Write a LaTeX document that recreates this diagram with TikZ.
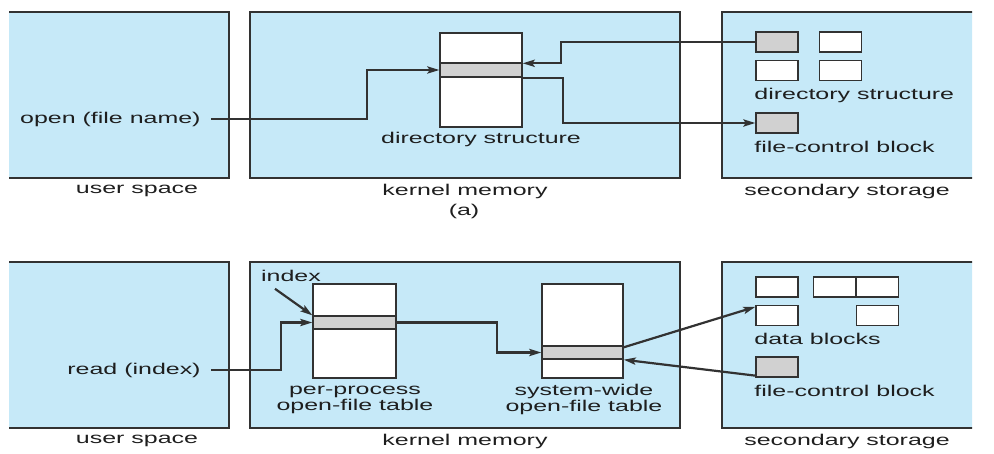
\documentclass[tikz,border=0pt]{standalone}
\usepackage{fontspec}
\setmainfont[FakeStretch=1.6]{Liberation Sans}
\usetikzlibrary{arrows.meta}
\definecolor{memblue}{RGB}{198,233,248}
\definecolor{bandgrey}{RGB}{209,209,209}
\definecolor{edge}{RGB}{50,50,50}
\definecolor{txt}{RGB}{30,30,30}
\begin{document}
\begin{tikzpicture}[x=0.5pt, y=-0.5pt,
        every node/.style={font=\fontsize{7.8}{8}\selectfont, text=txt},
        region/.style={draw=edge, fill=memblue, line width=0.8pt, inner sep=0, minimum height=83pt},
        tabl/.style={draw=edge, fill=white, line width=0.7pt, inner sep=0, minimum height=47pt},
        band/.style={draw=edge, fill=bandgrey, line width=0.7pt, inner sep=0, minimum height=7pt},
        blk/.style={draw=edge, fill=white, line width=0.65pt, inner sep=0, minimum width=21pt, minimum height=10pt},
        fcb/.style={blk, fill=bandgrey},
        conn/.style={draw=edge, line width=1.1pt, -{Stealth[length=6pt, width=3.6pt, inset=1.2pt]}}]
        \useasboundingbox (0,0) rectangle (994,454);

        % Areas (a)
        \begin{scope}
        \clip (9,0) rectangle (972,454);
        \node[region, minimum width=112.5pt] (usrA) at (116.5,95) {};
        \node[region, minimum width=215pt] (krnA) at (465,95) {};
        \node[region, minimum width=127.5pt] (secA) at (849.5,95) {};
        % Areas (b)
        \node[region, minimum width=112.5pt] (usrB) at (116.5,345) {};
        \node[region, minimum width=215pt] (krnB) at (465,345) {};
        \node[region, minimum width=127.5pt] (secB) at (849.5,345) {};
        \end{scope}

        % Labels under the areas
        \node (usrAl) at (137,191) {user space};
        \node (krnAl) at (465,191) {kernel memory};
        \node (secAl) at (847,191) {secondary storage};
        \node (capA) at (464,211) {(a)};
        \node (usrBl) at (137,441) {user space};
        \node (krnBl) at (465,441) {kernel memory};
        \node (secBl) at (847,441) {secondary storage};

        % Kernel memory (a)
        \node[tabl, minimum width=41pt] (dirTab) at (481,80) {};
        \node[band, minimum width=41pt] (dirBand) at (481,70) {};
        \node (dirTabl) at (481,139) {directory structure};

        % Secondary storage (a)
        \node[fcb] (dirBlk1) at (777,42) {};
        \node[blk] (dirBlk2) at (840.5,42) {};
        \node[blk] (dirBlk3) at (777,70.5) {};
        \node[blk] (dirBlk4) at (840.5,70.5) {};
        \node[anchor=west, inner sep=0] (dirAl) at (754,95) {directory structure};
        \node[fcb] (fcbA) at (777,123) {};
        \node[anchor=west, inner sep=0] (fcbAl) at (754,147) {file-control block};

        % User space (a)
        \node[anchor=east, inner xsep=5pt, inner ysep=0] (openA) at (211,119) {open (file name)};

        % Arrows (a)
        \draw[conn] (openA.east) -- ++(156,0) |- (dirBand.west);
        \draw[conn] (dirBlk1.west) -- ++(-194,0) |- ([yshift=-0.5pt]dirBand.north east);
        \draw[conn] (dirBand.south east) -- ++(40,0) |- (fcbA.west);

        % Kernel memory (b)
        \node[tabl, minimum width=41.5pt] (ppTab) at (354.5,331) {};
        \node[band, minimum width=41.5pt, minimum height=6.5pt] (ppBand) at (354.5,322.5) {};
        \node[align=center, inner sep=0] (ppTabl) at (355,399.5) {per-process\\open-file table};
        \node (idxB) at (291,276) {index};
        \node[tabl, minimum width=40.5pt] (swTab) at (582.5,331) {};
        \node[band, minimum width=40.5pt, minimum height=6.5pt] (swBand) at (582.5,352.5) {};
        \node[align=center, inner sep=0] (swTabl) at (584,399.5) {system-wide\\open-file table};

        % Secondary storage (b)
        \node[blk] (dat1) at (777,287) {};
        \node[blk] (dat2) at (834.5,287) {};
        \node[blk] (dat3) at (877.5,287) {};
        \node[blk] (dat4) at (777,315.5) {};
        \node[blk] (dat5) at (877.5,315.5) {};
        \node[anchor=west, inner sep=0] (datBl) at (754,339) {data blocks};
        \node[fcb] (fcbB) at (777,367) {};
        \node[anchor=west, inner sep=0] (fcbBl) at (754,391) {file-control block};

        % User space (b)
        \node[anchor=east, inner xsep=5pt, inner ysep=0] (readB) at (211,370) {read (index)};

        % Arrows (b)
        \draw[conn] (readB.east) -- ++(70,0) |- (ppBand.west);
        \draw[conn] ([xshift=-8pt]idxB.south) -- (ppBand.north west);
        \draw[conn] (ppBand.east) -- ++(100,0) |- (swBand.west);
        \draw[conn] ([yshift=-1pt]swBand.north east) -- ([yshift=-1pt]dat4.north west);
        \draw[conn] ([yshift=1pt]fcbB.south west) -- (swBand.south east);
\end{tikzpicture}
\end{document}
